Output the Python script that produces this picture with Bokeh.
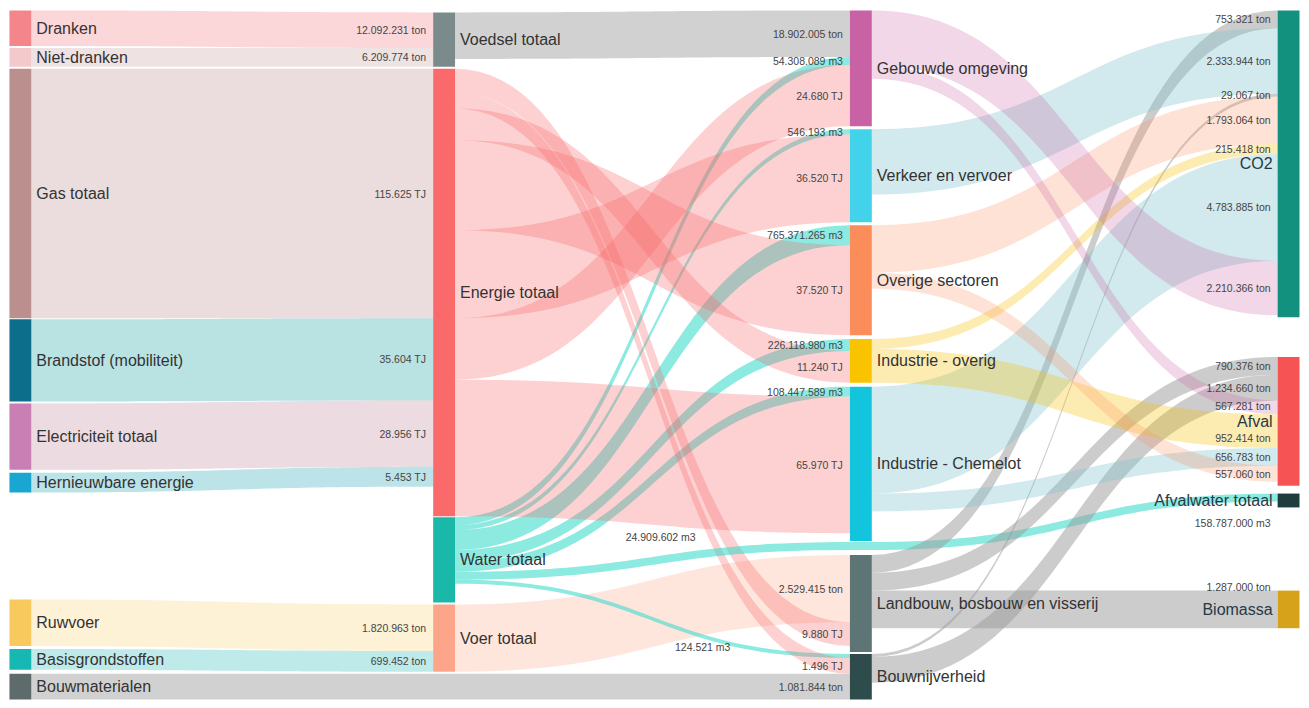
import numpy as np
from bokeh.plotting import figure
from bokeh.models import ColumnDataSource, Range1d
from bokeh.core.properties import value
from bokeh.embed import file_html
from bokeh.resources import INLINE

# ---------------- data ----------------
node_names = [
    "Dranken", "Niet-dranken", "Gas totaal", "Brandstof (mobiliteit)", "Electriciteit totaal",
    "Hernieuwbare energie", "Ruwvoer", "Basisgrondstoffen", "Bouwmaterialen",
    "Voedsel totaal", "Energie totaal", "Water totaal", "Voer totaal",
    "Gebouwde omgeving", "Verkeer en vervoer", "Overige sectoren", "Industrie - overig",
    "Industrie - Chemelot", "Landbouw, bosbouw en visserij", "Bouwnijverheid",
    "CO2", "Afval", "Afvalwater totaal", "Biomassa",
]
node_column = [0, 0, 0, 0, 0, 0, 0, 0, 0,
               1, 1, 1, 1,
               2, 2, 2, 2, 2, 2, 2,
               3, 3, 3, 3]
# relative node magnitude as drawn (mixed units, normalised)
node_weight = [36, 19, 252, 83, 67, 20, 47, 21, 26,
               55, 452, 86, 68,
               117, 94, 111, 44, 156, 98, 46,
               310, 130, 14, 38]
node_note = {"Afvalwater totaal": "158.787.000 m3"}

link_source = [
    "Dranken", "Niet-dranken", "Gas totaal", "Brandstof (mobiliteit)", "Electriciteit totaal",
    "Hernieuwbare energie", "Ruwvoer", "Basisgrondstoffen",
    "Voedsel totaal", "Water totaal", "Energie totaal",
    "Water totaal", "Energie totaal",
    "Water totaal", "Energie totaal",
    "Water totaal", "Energie totaal",
    "Water totaal", "Energie totaal",
    "Voer totaal", "Energie totaal",
    "Water totaal", "Energie totaal", "Bouwmaterialen",
    "Water totaal",
    "Landbouw, bosbouw en visserij", "Verkeer en vervoer", "Bouwnijverheid", "Overige sectoren",
    "Industrie - overig", "Industrie - Chemelot", "Gebouwde omgeving",
    "Landbouw, bosbouw en visserij", "Bouwnijverheid", "Gebouwde omgeving", "Industrie - overig",
    "Industrie - Chemelot", "Overige sectoren",
    "Landbouw, bosbouw en visserij",
]
link_target = [
    "Voedsel totaal", "Voedsel totaal", "Energie totaal", "Energie totaal", "Energie totaal",
    "Energie totaal", "Voer totaal", "Voer totaal",
    "Gebouwde omgeving", "Gebouwde omgeving", "Gebouwde omgeving",
    "Verkeer en vervoer", "Verkeer en vervoer",
    "Overige sectoren", "Overige sectoren",
    "Industrie - overig", "Industrie - overig",
    "Industrie - Chemelot", "Industrie - Chemelot",
    "Landbouw, bosbouw en visserij", "Landbouw, bosbouw en visserij",
    "Bouwnijverheid", "Bouwnijverheid", "Bouwnijverheid",
    "Afvalwater totaal",
    "CO2", "CO2", "CO2", "CO2", "CO2", "CO2", "CO2",
    "Afval", "Afval", "Afval", "Afval", "Afval", "Afval",
    "Biomassa",
]
# relative flow magnitude as drawn
link_weight = [36, 19, 252, 83, 67, 20, 47, 21,
               47, 8, 62,
               5, 89,
               20, 91,
               12, 32,
               10, 138,
               68, 24,
               4, 16, 26,
               8,
               18, 66, 3, 48, 10, 108, 55,
               18, 26, 14, 34, 18, 16,
               38]
link_label = [
    "12.092.231 ton", "6.209.774 ton", "115.625 TJ", "35.604 TJ", "28.956 TJ", "5.453 TJ",
    "1.820.963 ton", "699.452 ton",
    "18.902.005 ton", "54.308.089 m3", "24.680 TJ",
    "546.193 m3", "36.520 TJ",
    "765.371.265 m3", "37.520 TJ",
    "226.118.980 m3", "11.240 TJ",
    "108.447.589 m3", "65.970 TJ",
    "2.529.415 ton", "9.880 TJ",
    "124.521 m3", "1.496 TJ", "1.081.844 ton",
    "24.909.602 m3",
    "753.321 ton", "2.333.944 ton", "29.067 ton", "1.793.064 ton", "215.418 ton",
    "4.783.885 ton", "2.210.366 ton",
    "790.376 ton", "1.234.660 ton", "567.281 ton", "952.414 ton", "656.783 ton", "557.060 ton",
    "1.287.000 ton",
]

# ---------------- layout & style settings ----------------
col_x = [10, 436, 855, 1285]
node_w = 22
col_top = [12, 14, 12, 12]
default_gap = 2
gap_before = {"Brandstof (mobiliteit)": 1, "Hernieuwbare energie": 3, "Ruwvoer": 108,
              "Basisgrondstoffen": 3, "Bouwmaterialen": 4,
              "Water totaal": 1,
              "Verkeer en vervoer": 3, "Overige sectoren": 3, "Industrie - overig": 4,
              "Industrie - Chemelot": 4, "Landbouw, bosbouw en visserij": 14,
              "Afval": 40, "Afvalwater totaal": 8, "Biomassa": 84}
source_order = {"Energie totaal": ["Landbouw, bosbouw en visserij", "Bouwnijverheid",
                                   "Industrie - overig", "Overige sectoren",
                                   "Verkeer en vervoer", "Gebouwde omgeving",
                                   "Industrie - Chemelot"]}
route_below = {("Water totaal", "Afvalwater totaal"): "Industrie - Chemelot"}
label_override = {"24.909.602 m3": (0.301, -18), "124.521 m3": (0.715, 3),
                  "1.287.000 ton": (1.0, -23), "952.414 ton": (1.0, 7),
                  "567.281 ton": (1.0, -1)}

node_colors = {
    "Dranken": "#f3858b", "Niet-dranken": "#f4c9cc", "Gas totaal": "#bc8f8f",
    "Brandstof (mobiliteit)": "#0d6e8b", "Electriciteit totaal": "#c97fb4",
    "Hernieuwbare energie": "#19a6d0", "Ruwvoer": "#f8c95c", "Basisgrondstoffen": "#17b8b3",
    "Bouwmaterialen": "#5e6b6b", "Voedsel totaal": "#7b8b8b", "Energie totaal": "#fb6a6a",
    "Water totaal": "#1ab8a8", "Voer totaal": "#fca58b", "Gebouwde omgeving": "#c862a4",
    "Verkeer en vervoer": "#42d3ea", "Overige sectoren": "#fb8d5a",
    "Industrie - overig": "#f9c300", "Industrie - Chemelot": "#12c5dc",
    "Landbouw, bosbouw en visserij": "#5d7575", "Bouwnijverheid": "#2e4c4c",
    "CO2": "#13917f", "Afval": "#f65454", "Afvalwater totaal": "#1f3d3d", "Biomassa": "#d6a21a",
}
link_style = {
    "Dranken": ("#f47c84", 0.3), "Niet-dranken": ("#c8a0a0", 0.3),
    "Gas totaal": ("#bc8f8f", 0.3), "Brandstof (mobiliteit)": ("#4fb6b8", 0.4),
    "Electriciteit totaal": ("#c08898", 0.3), "Hernieuwbare energie": ("#4fb6c0", 0.38),
    "Ruwvoer": ("#f7c85a", 0.25), "Basisgrondstoffen": ("#17b5b0", 0.28),
    "Bouwmaterialen": ("#9a9a9a", 0.45), "Voedsel totaal": ("#9a9a9a", 0.45),
    "Energie totaal": ("#f86868", 0.3), "Water totaal": ("#2ed8c8", 0.55),
    "Voer totaal": ("#fb9a78", 0.25), "Gebouwde omgeving": ("#c9609f", 0.25),
    "Verkeer en vervoer": ("#7fbfcc", 0.35), "Overige sectoren": ("#fb8c5c", 0.25),
    "Industrie - overig": ("#f8c000", 0.3), "Industrie - Chemelot": ("#7fbfcc", 0.35),
    "Landbouw, bosbouw en visserij": ("#9a9a9a", 0.5), "Bouwnijverheid": ("#9a9a9a", 0.5),
}
FONT = value("Liberation Sans")

# ---------------- layout computation ----------------
N = len(node_names)
idx = {n: i for i, n in enumerate(node_names)}
ny0 = np.zeros(N)
ny1 = np.zeros(N)
for c in range(4):
    y = col_top[c]
    first = True
    for i in range(N):
        if node_column[i] != c:
            continue
        if not first:
            y += gap_before.get(node_names[i], default_gap)
        ny0[i] = y
        ny1[i] = y + node_weight[i]
        y = ny1[i]
        first = False

L = len(link_source)
# target side stacking (list order)
t_off = {n: 0.0 for n in node_names}
lt0 = np.zeros(L)
for k in range(L):
    t = idx[link_target[k]]
    lt0[k] = ny0[t] + t_off[link_target[k]]
    t_off[link_target[k]] += link_weight[k]


def sort_key(k):
    s = link_source[k]
    tname = link_target[k]
    if s in source_order:
        return source_order[s].index(tname)
    r = route_below.get((s, tname))
    if r is not None:
        return ny1[idx[r]]
    return ny0[idx[tname]]


ls0 = np.zeros(L)
for s in node_names:
    ks = [k for k in range(L) if link_source[k] == s]
    ks.sort(key=sort_key)
    off = ny0[idx[s]]
    for k in ks:
        ls0[k] = off
        off += link_weight[k]


def bez(xa, ya, xb, yb, n=48):
    t = np.linspace(0, 1, n)
    xm = (xa + xb) / 2
    x = (1 - t) ** 3 * xa + 3 * (1 - t) ** 2 * t * xm + 3 * (1 - t) * t ** 2 * xm + t ** 3 * xb
    y = (1 - t) ** 3 * ya + 3 * (1 - t) ** 2 * t * ya + 3 * (1 - t) * t ** 2 * yb + t ** 3 * yb
    return x, y


def edge(stx, sty):
    xs, ys = [], []
    for j in range(len(stx) - 1):
        x, y = bez(stx[j], sty[j], stx[j + 1], sty[j + 1])
        xs.append(x)
        ys.append(y)
    return np.concatenate(xs), np.concatenate(ys)


pxs, pys, pcol, palpha = [], [], [], []
lab_x, lab_y, lab_t = [], [], []
for k in range(L):
    s, tname, w = link_source[k], link_target[k], link_weight[k]
    xs0 = col_x[node_column[idx[s]]] + node_w
    xt0 = col_x[node_column[idx[tname]]]
    r = route_below.get((s, tname))
    if r is not None:
        rc = node_column[idx[r]]
        yw = ny1[idx[r]] + 1
        stx = [xs0, col_x[rc], col_x[rc] + node_w, xt0]
        sty = [ls0[k], yw, yw, lt0[k]]
    else:
        stx = [xs0, xt0]
        sty = [ls0[k], lt0[k]]
    tx, ty = edge(stx, sty)
    bx, by = edge(stx, [v + w for v in sty])
    pxs.append(np.concatenate([tx, bx[::-1]]).tolist())
    pys.append(np.concatenate([ty, by[::-1]]).tolist())
    colr, a = link_style[s]
    pcol.append(colr)
    palpha.append(a)
    cx, cy = edge(stx, [v + w / 2 for v in sty])
    lbl = link_label[k]
    if lbl in label_override:
        f, dy = label_override[lbl]
        xa = xs0 + f * (xt0 - xs0) - 7
        ya = float(np.interp(xa, cx, cy)) + dy
    else:
        xa = xt0 - 7
        ya = lt0[k] + w / 2
    lab_x.append(xa)
    lab_y.append(ya)
    lab_t.append(lbl)

# ---------------- figure ----------------
p = figure(width=1300, height=700, x_range=Range1d(1, 1308), y_range=Range1d(709, 2),
           output_backend="svg", toolbar_location=None, min_border=0)
p.axis.visible = False
p.grid.visible = False
p.outline_line_color = None
p.background_fill_color = "white"

p.patches(xs="xs", ys="ys", fill_color="color", fill_alpha="alpha", line_color=None,
          source=ColumnDataSource(dict(xs=pxs, ys=pys, color=pcol, alpha=palpha)))

p.quad(left=[col_x[c] for c in node_column], right=[col_x[c] + node_w for c in node_column],
       top=ny0.tolist(), bottom=ny1.tolist(),
       fill_color=[node_colors[n] for n in node_names], line_color=None)

# link value labels
p.text(x="x", y="y", text="t", source=ColumnDataSource(dict(x=lab_x, y=lab_y, t=lab_t)),
       text_font=FONT, text_font_size="10.5px", text_color="#454545",
       text_align="right", text_baseline="middle")

# node labels
lx, ly, lt = [], [], []
rx, ry, rt = [], [], []
for i, n in enumerate(node_names):
    cy = (ny0[i] + ny1[i]) / 2
    if node_column[i] < 3:
        lx.append(col_x[node_column[i]] + node_w + 5)
        ly.append(cy)
        lt.append(n)
    else:
        rx.append(col_x[3] - 5)
        ry.append(cy)
        rt.append(n)
p.text(x="x", y="y", text="t", source=ColumnDataSource(dict(x=lx, y=ly, t=lt)),
       text_font=FONT, text_font_size="16px", text_color="#333333",
       text_align="left", text_baseline="middle")
p.text(x="x", y="y", text="t", source=ColumnDataSource(dict(x=rx, y=ry, t=rt)),
       text_font=FONT, text_font_size="16px", text_color="#263a46",
       text_align="right", text_baseline="middle")

nx, ny, nt = [], [], []
for n, note in node_note.items():
    i = idx[n]
    nx.append(col_x[3] - 7)
    ny.append(ny1[i] + 16)
    nt.append(note)
p.text(x="x", y="y", text="t", source=ColumnDataSource(dict(x=nx, y=ny, t=nt)),
       text_font=FONT, text_font_size="10.5px", text_color="#454545",
       text_align="right", text_baseline="middle")

open("out.html", "w").write(file_html(p, INLINE))
